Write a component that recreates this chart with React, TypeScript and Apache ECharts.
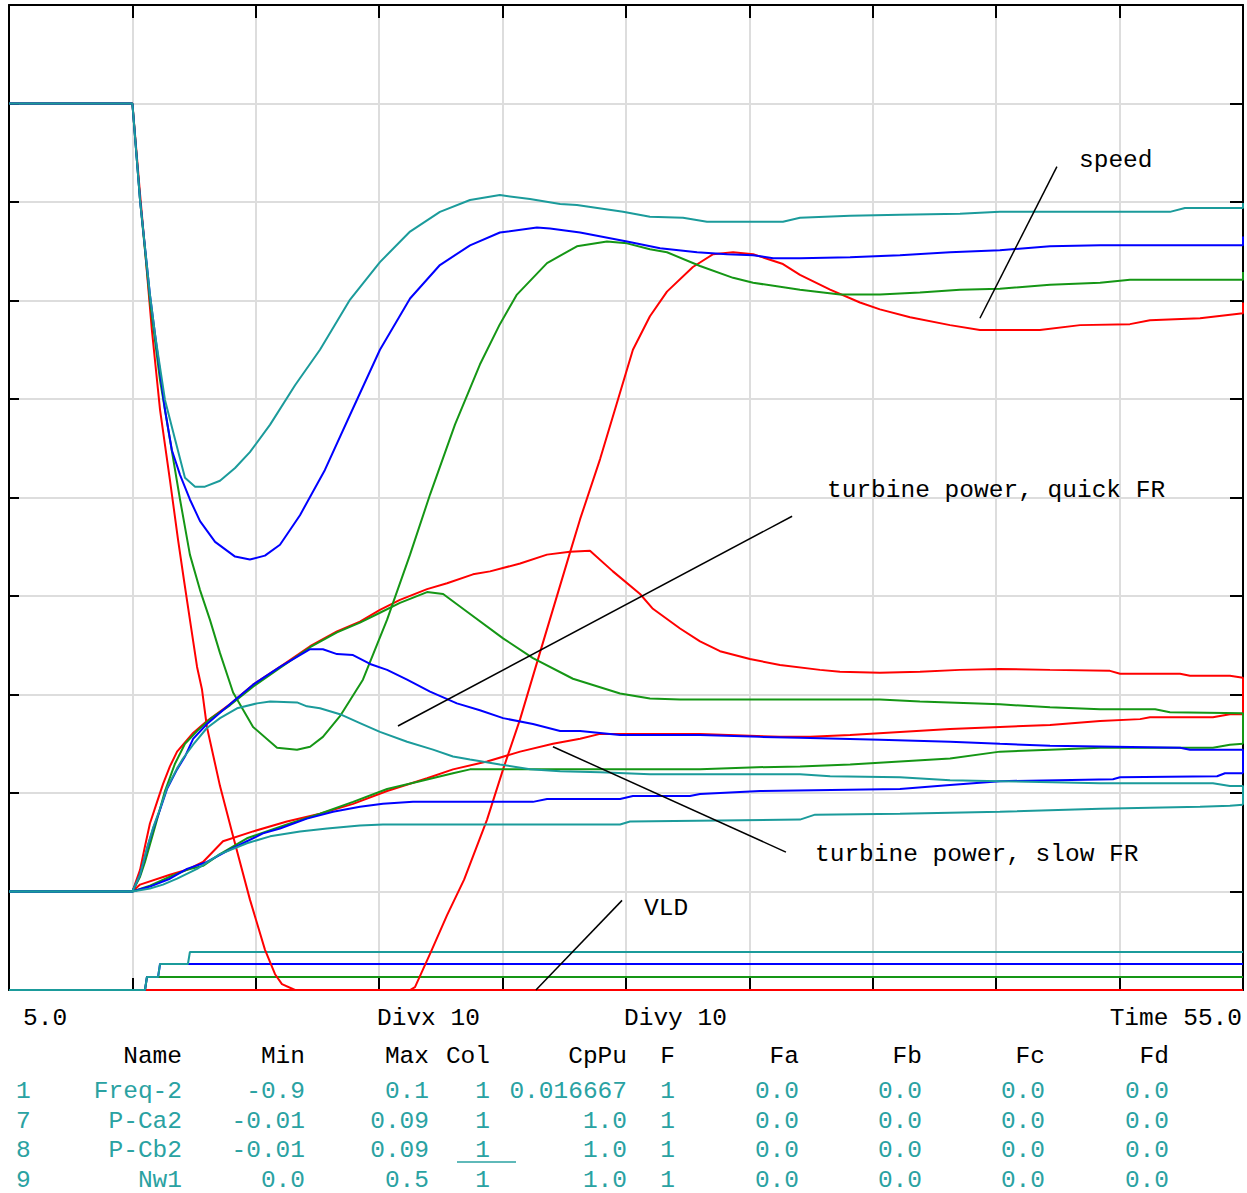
import React, { useEffect, useRef } from "react";
import * as echarts from "echarts";

// ---------- data (time in s, values in each variable's own units) ----------
const timeMin = 5;
const timeMax = 55;
const timeStep = 5;

// Freq-2 (speed), min -0.9 max 0.1
const speedTeal = [[5,0],[10,0],[10.31,-0.098],[10.71,-0.194],[10.92,-0.235],[11.32,-0.301],[11.73,-0.341],[12.13,-0.380],[12.54,-0.389],[12.94,-0.389],[13.55,-0.383],[14.16,-0.370],[14.76,-0.354],[15.58,-0.326],[16.59,-0.286],[17.60,-0.250],[18.82,-0.199],[20.03,-0.161],[21.25,-0.130],[22.46,-0.110],[23.68,-0.098],[24.89,-0.093],[26.11,-0.097],[27.33,-0.102],[28.01,-0.103],[29.88,-0.110],[30.97,-0.115],[32.31,-0.116],[33.28,-0.120],[36.36,-0.120],[37.05,-0.116],[39.08,-0.114],[41.10,-0.113],[43.53,-0.112],[45.15,-0.110],[52.04,-0.110],[52.65,-0.106],[55,-0.106],[55,-0.101]];
const speedBlue = [[5,0],[10,0],[10.31,-0.098],[10.71,-0.194],[10.92,-0.235],[11.32,-0.311],[11.60,-0.352],[11.93,-0.377],[12.33,-0.402],[12.74,-0.424],[13.35,-0.445],[14.16,-0.460],[14.76,-0.463],[15.37,-0.459],[15.98,-0.448],[16.79,-0.418],[17.80,-0.372],[18.82,-0.316],[20.03,-0.250],[21.25,-0.198],[22.46,-0.164],[23.68,-0.144],[24.89,-0.131],[26.39,-0.126],[26.92,-0.127],[28.14,-0.131],[30.04,-0.140],[31.38,-0.147],[32.88,-0.151],[34.09,-0.153],[35.15,-0.154],[35.96,-0.157],[37.05,-0.157],[39.08,-0.156],[41.10,-0.154],[43.13,-0.151],[45.15,-0.149],[47.18,-0.145],[49.21,-0.144],[55,-0.144],[55,-0.135]];
const speedGreen = [[5,0],[10,0],[10.31,-0.098],[10.71,-0.200],[11.12,-0.281],[11.52,-0.341],[11.93,-0.402],[12.33,-0.458],[12.74,-0.494],[13.14,-0.524],[13.55,-0.558],[14.08,-0.598],[14.89,-0.633],[15.86,-0.654],[16.67,-0.656],[17.20,-0.653],[17.72,-0.643],[18.41,-0.622],[19.34,-0.585],[20.32,-0.524],[21.25,-0.458],[22.06,-0.397],[23.07,-0.326],[24.08,-0.265],[24.89,-0.224],[25.58,-0.194],[26.80,-0.162],[28.01,-0.145],[29.23,-0.140],[30.04,-0.142],[30.97,-0.148],[31.66,-0.151],[33.00,-0.165],[34.34,-0.177],[35.15,-0.182],[37.05,-0.189],[38.67,-0.194],[40.29,-0.194],[41.91,-0.192],[43.53,-0.189],[45.15,-0.188],[47.18,-0.184],[49.21,-0.182],[50.42,-0.179],[55,-0.179],[55,-0.171]];
const speedRed = [[5,0],[10,0],[10.31,-0.092],[10.51,-0.148],[10.79,-0.230],[11.12,-0.311],[11.52,-0.382],[11.85,-0.443],[12.09,-0.484],[12.33,-0.524],[12.62,-0.572],[12.82,-0.595],[13.02,-0.633],[13.55,-0.693],[14.08,-0.744],[14.76,-0.808],[15.37,-0.859],[15.78,-0.884],[16.06,-0.894],[16.59,-0.9],[21.25,-0.9],[21.45,-0.897],[22.10,-0.861],[22.75,-0.824],[23.44,-0.788],[24.37,-0.727],[25.02,-0.676],[25.71,-0.625],[26.52,-0.557],[27.73,-0.456],[28.14,-0.422],[28.95,-0.361],[29.55,-0.311],[30.28,-0.250],[30.97,-0.216],[31.66,-0.191],[32.71,-0.166],[33.53,-0.153],[34.34,-0.151],[35.15,-0.153],[36.36,-0.163],[37.05,-0.174],[38.27,-0.189],[39.48,-0.202],[40.29,-0.209],[41.51,-0.217],[43.13,-0.225],[44.34,-0.230],[46.77,-0.230],[48.40,-0.225],[50.42,-0.224],[51.23,-0.220],[53.26,-0.218],[55,-0.213],[55,-0.202]];

// P-Ca2 (turbine power, quick FR), min -0.01 max 0.09
const quickTeal = [[5,0],[10,0],[10.31,0.0017],[10.59,0.0044],[10.83,0.0064],[11.12,0.0084],[11.40,0.0105],[11.81,0.0125],[12.05,0.0135],[12.46,0.0149],[13.02,0.0166],[13.55,0.0176],[14.24,0.0186],[15.05,0.0191],[15.58,0.0193],[16.67,0.0192],[17.07,0.0188],[17.60,0.0186],[18.41,0.0180],[19.22,0.0171],[20.03,0.0162],[21.13,0.0152],[22.18,0.0144],[22.99,0.0137],[23.68,0.0134],[24.89,0.0129],[26.11,0.0124],[27.33,0.0122],[28.95,0.0121],[30.97,0.0119],[37.05,0.0119],[38.27,0.0117],[41.10,0.0116],[43.13,0.0113],[45.15,0.0112],[49.21,0.0110],[53.78,0.0110],[54.47,0.0107],[55,0.0107],[55,0.0088]];
const quickBlue = [[5,0],[10,0],[10.31,0.0017],[10.59,0.0043],[10.83,0.0063],[11.12,0.0083],[11.40,0.0104],[11.81,0.0124],[12.13,0.0137],[12.46,0.0155],[13.02,0.0170],[13.95,0.0190],[14.89,0.0210],[15.98,0.0228],[17.20,0.0246],[17.72,0.0246],[18.29,0.0241],[18.94,0.0240],[19.63,0.0231],[20.32,0.0225],[21.13,0.0215],[22.06,0.0203],[23.15,0.0191],[24.08,0.0184],[25.02,0.0176],[26.23,0.0170],[27.33,0.0163],[28.14,0.0163],[29.76,0.0159],[33.00,0.0159],[35.43,0.0157],[37.05,0.0156],[40.29,0.0154],[43.13,0.0152],[45.15,0.0150],[47.18,0.0148],[52.45,0.0146],[52.85,0.0144],[55,0.0144],[55,0.0120]];
const quickGreen = [[5,0],[10,0],[10.31,0.0015],[10.51,0.0030],[10.92,0.0066],[11.32,0.0102],[11.73,0.0130],[12.13,0.0150],[12.62,0.0163],[13.14,0.0175],[13.95,0.0189],[14.89,0.0208],[15.98,0.0227],[17.20,0.0248],[18.29,0.0263],[19.22,0.0273],[20.03,0.0283],[20.84,0.0293],[21.94,0.0304],[22.59,0.0302],[23.56,0.0284],[25.02,0.0257],[26.23,0.0237],[27.85,0.0216],[29.76,0.0201],[30.97,0.0196],[32.19,0.0195],[40.29,0.0195],[41.91,0.0193],[45.15,0.0190],[47.18,0.0187],[49.21,0.0185],[51.44,0.0185],[52.04,0.0182],[55,0.0181],[55,0.0150]];
const quickRed = [[5,0],[10,0],[10.31,0.0022],[10.51,0.0046],[10.71,0.0069],[11.00,0.0091],[11.24,0.0109],[11.52,0.0127],[11.81,0.0142],[12.46,0.0161],[13.02,0.0173],[13.95,0.0190],[14.89,0.0210],[15.98,0.0228],[17.20,0.0249],[18.29,0.0264],[19.22,0.0274],[20.03,0.0286],[20.84,0.0296],[21.94,0.0307],[22.75,0.0313],[23.80,0.0322],[24.49,0.0325],[25.71,0.0333],[26.80,0.0342],[27.73,0.0345],[28.54,0.0346],[29.47,0.0325],[30.57,0.0302],[31.09,0.0287],[32.19,0.0267],[33.00,0.0254],[33.81,0.0244],[35.02,0.0236],[36.24,0.0230],[37.86,0.0225],[38.67,0.0223],[40.29,0.0222],[41.91,0.0223],[43.53,0.0225],[45.15,0.0226],[47.18,0.0225],[49.61,0.0224],[50.02,0.0221],[52.45,0.0221],[52.85,0.0219],[54.47,0.0219],[55,0.0217],[55,0.0180]];

// P-Cb2 (turbine power, slow FR), min -0.01 max 0.09
const slowTeal = [[5,0],[10,0],[10.71,0.0003],[11.24,0.0007],[11.81,0.0013],[12.62,0.0023],[13.55,0.0038],[14.64,0.0049],[15.58,0.0056],[16.79,0.0061],[17.89,0.0064],[19.22,0.0067],[20.15,0.0068],[29.76,0.0068],[30.16,0.0071],[37.05,0.0073],[37.66,0.0078],[41.10,0.0079],[45.15,0.0081],[49.21,0.0084],[51.23,0.0085],[53.26,0.0086],[54.47,0.0087],[55,0.0088]];
const slowBlue = [[5,0],[10,0],[10.71,0.0005],[11.52,0.0013],[12.21,0.0023],[13.02,0.0030],[13.83,0.0041],[14.64,0.0051],[15.29,0.0059],[15.98,0.0064],[17.07,0.0074],[18.13,0.0081],[19.22,0.0086],[20.15,0.0089],[21.37,0.0091],[26.23,0.0091],[26.80,0.0094],[29.76,0.0094],[30.28,0.0097],[32.59,0.0097],[33.00,0.0099],[35.43,0.0102],[41.10,0.0104],[43.13,0.0108],[45.15,0.0112],[49.73,0.0114],[50.02,0.0116],[53.95,0.0117],[54.27,0.0120],[55,0.0120]];
const slowGreen = [[5,0],[10,0],[10.71,0.0006],[11.52,0.0015],[12.21,0.0022],[12.86,0.0026],[13.55,0.0038],[14.64,0.0054],[16.26,0.0068],[17.60,0.0079],[18.94,0.0091],[20.32,0.0104],[21.65,0.0112],[22.99,0.0120],[23.68,0.0124],[33.00,0.0124],[35.02,0.0126],[37.05,0.0127],[39.08,0.0129],[41.10,0.0132],[43.13,0.0135],[45.15,0.0142],[47.18,0.0144],[49.21,0.0146],[53.78,0.0146],[54.47,0.0149],[55,0.0150]];
const slowRed = [[5,0],[10,0],[10.31,0.0007],[11.52,0.0017],[12.21,0.0022],[12.86,0.0030],[13.67,0.0051],[14.89,0.0061],[16.26,0.0071],[17.60,0.0079],[18.94,0.0089],[20.32,0.0102],[21.94,0.0115],[22.99,0.0124],[24.37,0.0132],[25.71,0.0142],[27.04,0.0150],[28.14,0.0155],[28.95,0.0160],[33.00,0.0160],[36.24,0.0157],[37.46,0.0157],[39.08,0.0159],[41.10,0.0162],[43.13,0.0165],[45.15,0.0167],[47.18,0.0169],[49.21,0.0173],[50.83,0.0175],[51.23,0.0177],[53.78,0.0177],[54.47,0.0180],[55,0.0180]];

// Nw1 (VLD), min 0.0 max 0.5
const vldTeal = [[5,0],[10.51,0],[10.59,0.0066],[11.04,0.0066],[11.12,0.0132],[12.25,0.0132],[12.33,0.0193],[55,0.0193]];
const vldBlue = [[5,0],[10.51,0],[10.59,0.0066],[11.04,0.0066],[11.12,0.0132],[55,0.0132]];
const vldGreen = [[5,0],[10.51,0],[10.59,0.0066],[55,0.0066]];
const vldRed = [[5,0],[55,0]];

// annotation pointers (time, divisions 0..10)
const pointerSpeed = [[47.46,8.36],[44.34,6.82]];
const pointerQuick = [[36.73,4.81],[20.76,2.68]];
const pointerSlow = [[27.04,2.47],[36.48,1.40]];
const pointerVld = [[29.84,0.91],[26.35,0]];

// footer table
const footerAxisTexts = ["5.0", "Divx 10", "Divy 10", "Time 55.0"];
const tableHeader = ["Name", "Min", "Max", "Col", "CpPu", "F", "Fa", "Fb", "Fc", "Fd"];
const tableIndex = ["1", "7", "8", "9"];
const tableRows = [
  ["Freq-2", "-0.9", "0.1", "1", "0.016667", "1", "0.0", "0.0", "0.0", "0.0"],
  ["P-Ca2", "-0.01", "0.09", "1", "1.0", "1", "0.0", "0.0", "0.0", "0.0"],
  ["P-Cb2", "-0.01", "0.09", "1", "1.0", "1", "0.0", "0.0", "0.0", "0.0"],
  ["Nw1", "0.0", "0.5", "1", "1.0", "1", "0.0", "0.0", "0.0", "0.0"],
];

// ---------- styling / layout ----------
const TEAL = "#1b9b9b";
const BLUE = "#0000ff";
const GREEN = "#159615";
const RED = "#ff0000";
const TEXT_TEAL = "#2aa2a2";
const FONT = '24.5px "Liberation Mono", "Courier New", monospace';
const colRight = [182, 305, 429, 490, 627, 675, 799, 922, 1045, 1169];
const rowY = [1091, 1121, 1150, 1180];

export default function App() {
  const ref = useRef<HTMLDivElement>(null);

  useEffect(() => {
    if (!ref.current) return;
    const chart = echarts.init(ref.current, null, { renderer: "svg" });

    const line = (data: number[][], color: string, yAxisIndex: number, z = 2, width = 2) => ({
      type: "line",
      data,
      yAxisIndex,
      xAxisIndex: 0,
      showSymbol: false,
      symbol: "none",
      clip: false,
      z,
      silent: true,
      lineStyle: { color, width },
      itemStyle: { color },
    });

    const frameAxis = (position: string, tickLen: number, split: boolean) => ({
      type: "value",
      position,
      axisLine: { show: true, onZero: false, lineStyle: { color: "#000", width: 2 } },
      axisTick: { show: true, inside: true, length: tickLen, lineStyle: { color: "#000", width: 2 } },
      axisLabel: { show: false },
      splitLine: { show: split, lineStyle: { color: "#dddddd", width: 2 } },
    });

    const texts: any[] = [];
    const fTxt = (text: string, x: number, y: number, align: string, fill: string) => ({
      type: "text",
      x,
      y,
      z: 100,
      silent: true,
      style: { text, x: 0, y: 0, fill, font: FONT, textAlign: align, textVerticalAlign: "middle", verticalAlign: "middle" },
    });
    texts.push(fTxt(footerAxisTexts[0], 23, 1018, "left", "#000"));
    texts.push(fTxt(footerAxisTexts[1], 377, 1018, "left", "#000"));
    texts.push(fTxt(footerAxisTexts[2], 624, 1018, "left", "#000"));
    texts.push(fTxt(footerAxisTexts[3], 1242, 1018, "right", "#000"));
    tableHeader.forEach((h, i) => texts.push(fTxt(h, colRight[i], 1056, "right", "#000")));
    tableRows.forEach((row, r) => {
      texts.push(fTxt(tableIndex[r], 16, rowY[r], "left", TEXT_TEAL));
      row.forEach((c, i) => texts.push(fTxt(c, colRight[i], rowY[r], "right", TEXT_TEAL)));
    });
    texts.push({
      type: "line",
      z: 100,
      silent: true,
      shape: { x1: 457, y1: 1162, x2: 516, y2: 1162 },
      style: { stroke: TEXT_TEAL, lineWidth: 1.5 },
    });
    texts.push(fTxt("speed", 1079, 160, "left", "#000"));
    texts.push(fTxt("turbine power, quick FR", 827, 490, "left", "#000"));
    texts.push(fTxt("turbine power, slow FR", 815, 854, "left", "#000"));
    texts.push(fTxt("VLD", 644, 908, "left", "#000"));

    chart.setOption({
      animation: false,
      backgroundColor: "#ffffff",
      grid: { left: 9, right: 4, top: 5, bottom: 203, containLabel: false },
      xAxis: [
        { ...frameAxis("bottom", 12, true), min: timeMin, max: timeMax, interval: timeStep },
        { ...frameAxis("top", 13, false), min: timeMin, max: timeMax, interval: timeStep },
      ],
      yAxis: [
        { ...frameAxis("left", 10, true), min: 0, max: 10, interval: 1 },
        { ...frameAxis("right", 13, false), min: 0, max: 10, interval: 1 },
        { type: "value", show: false, min: -0.9, max: 0.1 },
        { type: "value", show: false, min: -0.01, max: 0.09 },
        { type: "value", show: false, min: 0, max: 0.5 },
      ],
      series: [
        line(vldRed, RED, 4),
        line(vldGreen, GREEN, 4),
        line(vldBlue, BLUE, 4),
        line(vldTeal, TEAL, 4),
        line(slowRed, RED, 3),
        line(quickRed, RED, 3),
        line(speedRed, RED, 2),
        line(slowGreen, GREEN, 3),
        line(quickGreen, GREEN, 3),
        line(speedGreen, GREEN, 2),
        line(slowBlue, BLUE, 3),
        line(quickBlue, BLUE, 3),
        line(speedBlue, BLUE, 2),
        line(slowTeal, TEAL, 3),
        line(quickTeal, TEAL, 3),
        line(speedTeal, TEAL, 2),
        line(pointerSpeed, "#000", 0, 5, 1.5),
        line(pointerQuick, "#000", 0, 5, 1.5),
        line(pointerSlow, "#000", 0, 5, 1.5),
        line(pointerVld, "#000", 0, 5, 1.5),
      ],
      graphic: texts,
    });

    return () => chart.dispose();
  }, []);

  return (
    <div
      ref={ref}
      style={{ position: "absolute", left: 0, top: 0, width: 1247, height: 1193, background: "#fff" }}
    />
  );
}
